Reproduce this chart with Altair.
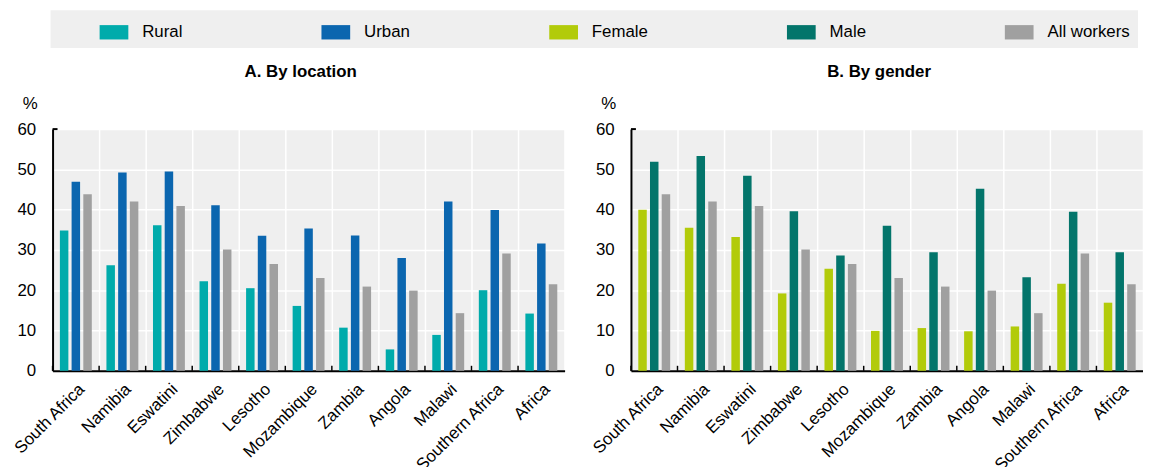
import altair as alt
import pandas as pd

COUNTRIES = ["South Africa", "Namibia", "Eswatini", "Zimbabwe", "Lesotho", "Mozambique",
             "Zambia", "Angola", "Malawi", "Southern Africa", "Africa"]
RURAL = [34.8, 26.2, 36.1, 22.2, 20.5, 16.1, 10.7, 5.3, 8.9, 20.0, 14.2]
URBAN = [46.9, 49.2, 49.5, 41.1, 33.5, 35.3, 33.6, 28.0, 42.0, 39.9, 31.6]
FEMALE = [40.0, 35.5, 33.2, 19.2, 25.3, 9.9, 10.6, 9.8, 11.0, 21.6, 16.9]
MALE = [51.9, 53.3, 48.4, 39.6, 28.6, 36.0, 29.4, 45.2, 23.2, 39.5, 29.4]
ALL_WORKERS = [43.8, 42.0, 40.9, 30.1, 26.5, 23.0, 20.9, 19.9, 14.3, 29.1, 21.5]

SERIES = ["Rural", "Urban", "Female", "Male", "All workers"]
COLORS = ["#00abab", "#0b66af", "#b2cb0a", "#03756b", "#a0a0a0"]
Y_TICKS = [0, 10, 20, 30, 40, 50, 60]
TITLES = ["A. By location", "B. By gender"]

FONT = "Liberation Sans, Arial, sans-serif"
FS = 17


def long_df(pairs):
    rows = []
    for name, vals in pairs:
        for c, v in zip(COUNTRIES, vals):
            rows.append({"country": c, "series": name, "value": v})
    return pd.DataFrame(rows)


df_a = long_df([("Rural", RURAL), ("Urban", URBAN), ("All workers", ALL_WORKERS)])
df_b = long_df([("Female", FEMALE), ("Male", MALE), ("All workers", ALL_WORKERS)])
df_c = pd.DataFrame({"country": COUNTRIES})
df_top = pd.DataFrame({"v": [Y_TICKS[-1]]})

legend = alt.Legend(
    orient="none", legendX=-2, legendY=-120, direction="horizontal",
    title="\u00a0", titleOrient="left", titlePadding=42, titleFontSize=20, titleFont=FONT,
    fillColor="#efefef", padding=7.5,
    symbolType="M-1,-0.5H1V0.5H-1Z", symbolSize=841, symbolStrokeWidth=0, symbolOpacity=1,
    labelOffset=14, columnPadding=140, labelFontSize=FS, labelFont=FONT, labelColor="#000",
    labelLimit=0,
)


def panel(df, order, title):
    x = alt.X("country:N", sort=COUNTRIES, scale=alt.Scale(paddingInner=0, paddingOuter=0),
              axis=alt.Axis(title=None, labelAngle=-45, labelFontSize=FS, labelFont=FONT,
                            labelColor="#000", domainColor="#000", domainWidth=2,
                            ticks=False, tickBand="extent", grid=True, gridColor="white",
                            gridWidth=1.5, labelPadding=10))
    y = alt.Y("value:Q", scale=alt.Scale(domain=[Y_TICKS[0], Y_TICKS[-1]]),
              axis=alt.Axis(values=Y_TICKS, title="%", titleAngle=0, titleX=-23, titleY=-26,
                            titleAlign="center", titleBaseline="middle", titleFont=FONT,
                            titleFontSize=FS, titleFontWeight="normal", titleColor="#000",
                            labelFontSize=FS, labelFont=FONT, labelColor="#000",
                            domainColor="#000", domainWidth=2, ticks=False, labelPadding=17,
                            grid=True, gridColor="white", gridWidth=1.5))
    bars = alt.Chart(df).mark_bar().encode(
        x=x,
        xOffset=alt.XOffset("series:N", sort=order,
                            scale=alt.Scale(paddingInner=0.275, paddingOuter=0.625)),
        y=y,
        color=alt.Color("series:N", scale=alt.Scale(domain=SERIES, range=COLORS), legend=legend),
    )
    ticks = alt.Chart(df_c).mark_rule(color="#000", strokeWidth=1.5).encode(
        x=alt.X("country:N", sort=COUNTRIES, bandPosition=0),
        y=alt.value(244), y2=alt.value(239),
    )
    cap = alt.Chart(df_top).mark_rule(color="#000", strokeWidth=2).encode(
        y=alt.Y("v:Q"), x=alt.value(0), x2=alt.value(5),
    )
    return alt.layer(bars, ticks, cap).properties(
        width=517, height=244,
        title=alt.TitleParams(title, font=FONT, fontSize=FS, fontWeight="bold", color="#000",
                              anchor="middle", frame="group", dx=-8, offset=14),
    )


chart = alt.hconcat(
    panel(df_a, ["Rural", "Urban", "All workers"], TITLES[0]),
    panel(df_b, ["Female", "Male", "All workers"], TITLES[1]),
    spacing=24,
).resolve_scale(xOffset="independent", color="shared").configure(
    padding={"left": 2, "top": 0, "right": 0, "bottom": 0}
).configure_view(fill="#efefef", stroke=None)

chart.save("out.html", embed_options={"renderer": "svg", "actions": False})
